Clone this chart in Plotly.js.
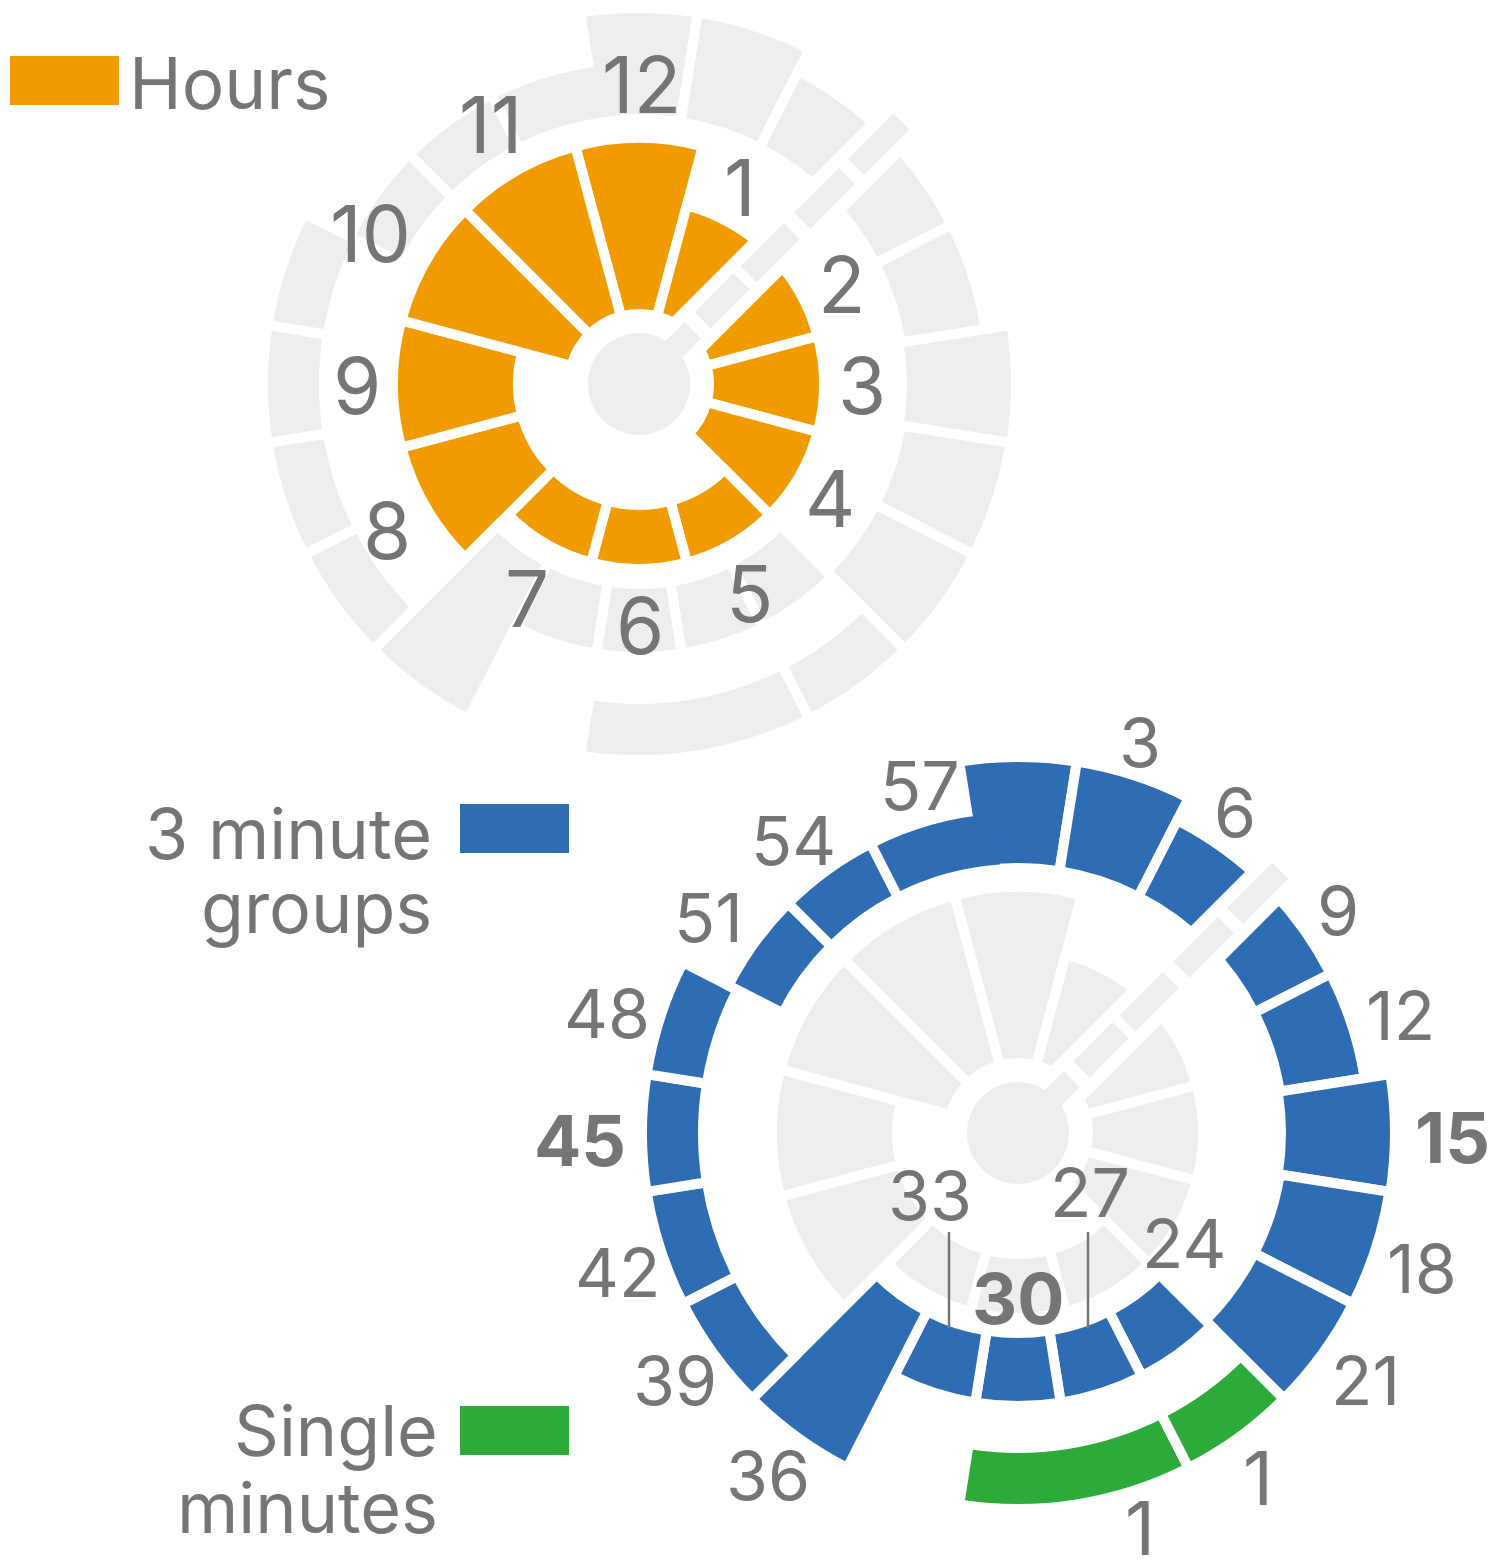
<!DOCTYPE html>
<html><head><meta charset="utf-8">
<script src="https://cdn.plot.ly/plotly-3.0.1.min.js"></script>
<style>html,body{margin:0;padding:0;background:#fff;overflow:hidden}</style>
</head><body><div id="chart" style="width:1508px;height:1561px"></div>
<script>
// ---------------- DATA ----------------
// Hours ring (clock positions) with inner / outer radial extent
const hours      = [12, 1, 2, 3, 4, 5, 6, 7, 8, 9, 10, 11];
const hourInner  = [75, 75, 75, 75, 75, 126, 126, 126, 126, 126, 75, 75];
const hourOuter  = [241, 180, 180, 180, 180, 180, 180, 180, 241, 241, 241, 241];

// 3 minute groups ring
const groupMinutes = [0, 3, 6, 9, 12, 15, 18, 21, 24, 27, 30, 33, 36, 39, 42, 45, 48, 51, 54, 57];
const groupStart   = [-1.5, 1.5, 4.5, 7.5, 10.5, 13.5, 16.5, 19.5, 22.5, 25.5, 28.5, 31.5, 34.5, 37.5, 40.5, 43.5, 46.5, 49.5, 52.5, 55.5];
const groupEnd     = [1.5, 4.5, 7.5, 10.5, 13.5, 16.5, 19.5, 22.5, 25.5, 28.5, 31.5, 34.5, 37.5, 40.5, 43.5, 46.5, 49.5, 52.5, 55.5, 59.35];
const groupInner   = [270, 270, 270, 270, 270, 268, 270, 270, 205, 205, 205, 205, 205, 320, 320, 320, 320, 269, 269, 269];
const groupOuter   = [371, 371, 346, 346, 346, 372, 371, 371, 268, 268, 268, 268, 371, 371, 371, 371, 371, 320, 320, 320];
const groupLabels  = ['', '3', '6', '9', '12', '15', '18', '21', '24', '27', '30', '33', '36', '39', '42', '45', '48', '51', '54', '57'];

// Single minutes ring
const singleStart  = [25.5, 22.5];
const singleEnd    = [31.5, 25.5];
const singleInner  = [320, 320];
const singleOuter  = [371, 371];
const singleLabels = ['1', '1'];

// Clock hand (minute position) and its segments
const handMinute   = 7.5;
const handSegStart = [0, 90, 155, 231, 307];
const handSegEnd   = [76, 145, 216, 294, 371];
const centerRadius = 51;

// ---------------- LAYOUT / STYLE ----------------
const W = 1508, H = 1561, R = 380, GAP = 10;
const TOP = {cx: 639, cy: 384}, BOT = {cx: 1018, cy: 1133};
const GREY = '#eeeeee', ORANGE = '#f29b00', BLUE = '#2e6db4', GREEN = '#2cab3a', TXT = '#757575';
const FONT = 'Inter, Roboto, "DejaVu Sans", sans-serif';

// label positions (px)
const hourLabelPos = [[641,85],[740,187],[842,284],[862,386],[830,498],[749,594],[640,626],[527,598],[387,530],[357,385],[370,234],[490,125]];
const groupLabelPos = [null,[1140,742],[1235,812],[1338,910],[1400,1015],[1452,1137],[1422,1268],[1365,1380],[1184,1243],[1090,1192],[1018,1298],[930,1195],[768,1475],[675,1380],[617,1272],[580,1140],[607,1013],[708,917],[793,840],[920,785]];
const boldGroups = ['15', '30', '45'];
const singleLabelPos = [[1140,1528],[1258,1478]];

function domainFor(c) {
  return {x: [(c.cx - R) / W, (c.cx + R) / W], y: [1 - (c.cy + R) / H, 1 - (c.cy - R) / H]};
}

function barTrace(sub, thetaDeg, widthDeg, inner, outer, color, noStroke) {
  return {
    type: 'barpolar', subplot: sub, hoverinfo: 'skip', showlegend: false,
    theta: thetaDeg, width: widthDeg,
    base: inner.map((v, i) => noStroke[i] ? v : v - GAP / 2),
    r: outer.map((v, i) => noStroke[i] ? v - inner[i] : v - inner[i] + GAP),
    marker: {color: color, line: {color: '#ffffff', width: noStroke.map(n => n ? 0 : GAP)}}
  };
}

function clockTraces(sub, cHours, cGroups, cSingles) {
  const tr = [];
  tr.push(barTrace(sub, hours.map(h => (h % 12) * 30), hours.map(() => 30),
    hourInner, hourOuter, cHours, hours.map(() => false)));
  // draw order: a group overlapping its successor is drawn right after it, without stroke
  const n = groupMinutes.length;
  const overl = groupMinutes.map((m, i) => groupEnd[i] - groupStart[i] > 3.01);
  const order = [];
  groupMinutes.forEach((m, i) => { if (!overl[i]) { order.push(i); const p = (i - 1 + n) % n; if (overl[p] && order.indexOf(p) < 0) order.push(p); } });
  groupMinutes.forEach((m, i) => { if (order.indexOf(i) < 0) order.push(i); });
  tr.push(barTrace(sub,
    order.map(i => (groupStart[i] + groupEnd[i]) / 2 * 6),
    order.map(i => (groupEnd[i] - groupStart[i]) * 6),
    order.map(i => groupInner[i]), order.map(i => groupOuter[i]), cGroups, order.map(i => overl[i])));
  tr.push(barTrace(sub, singleStart.map((s, i) => (s + singleEnd[i]) / 2 * 6),
    singleStart.map((s, i) => (singleEnd[i] - s) * 6), singleInner, singleOuter, cSingles, singleStart.map(() => false)));
  // center disk
  tr.push({type: 'barpolar', subplot: sub, hoverinfo: 'skip', showlegend: false,
    theta: [0], width: [360], base: [0], r: [centerRadius], marker: {color: GREY, line: {width: 0}}});
  // white clearance around the hand
  tr.push({type: 'scatterpolar', subplot: sub, mode: 'lines', hoverinfo: 'skip', showlegend: false,
    r: [centerRadius, R], theta: [handMinute * 6, handMinute * 6], line: {color: '#ffffff', width: 48}});
  // hand segments
  const hr = [], ht = [];
  handSegStart.forEach((s, i) => { hr.push(s, handSegEnd[i], null); ht.push(handMinute * 6, handMinute * 6, null); });
  tr.push({type: 'scatterpolar', subplot: sub, mode: 'lines', hoverinfo: 'skip', showlegend: false,
    r: hr, theta: ht, connectgaps: false, line: {color: GREY, width: 23}});
  return tr;
}

const data = [].concat(
  clockTraces('polar', ORANGE, GREY, GREY),
  clockTraces('polar2', GREY, BLUE, GREEN)
);

function polarLayout(c) {
  return {
    domain: domainFor(c), bgcolor: 'rgba(0,0,0,0)', barmode: 'overlay', hole: 0,
    radialaxis: {visible: false, range: [0, R], autorange: false, showgrid: false, showline: false, showticklabels: false, ticks: ''},
    angularaxis: {visible: false, rotation: 90, direction: 'clockwise', showgrid: false, showline: false, showticklabels: false, ticks: ''}
  };
}

function ann(x, y, text, size, opts) {
  return Object.assign({xref: 'paper', yref: 'paper', x: x / W, y: 1 - y / H, text: text, showarrow: false,
    xanchor: 'center', yanchor: 'middle', font: {family: FONT, size: size, color: TXT}}, opts || {});
}

const annotations = [];
hours.forEach((h, i) => annotations.push(ann(hourLabelPos[i][0], hourLabelPos[i][1], String(h), 78)));
groupLabels.forEach((t, i) => {
  if (!t) return;
  const b = boldGroups.indexOf(t) >= 0;
  annotations.push(ann(groupLabelPos[i][0], groupLabelPos[i][1], b ? '<b>' + t + '</b>' : t, b ? 70 : 68));
});
singleLabels.forEach((t, i) => annotations.push(ann(singleLabelPos[i][0], singleLabelPos[i][1], t, 74)));

// legend texts
annotations.push(ann(127, 83, 'Hours', 71, {xanchor: 'left'}));
annotations.push(ann(434, 833, '3 minute', 70, {xanchor: 'right'}));
annotations.push(ann(434, 907, 'groups', 70, {xanchor: 'right'}));
annotations.push(ann(440, 1430, 'Single', 70, {xanchor: 'right'}));
annotations.push(ann(440, 1507, 'minutes', 70, {xanchor: 'right'}));

function rect(x0, y0, x1, y1, color) {
  return {type: 'rect', xref: 'paper', yref: 'paper', x0: x0 / W, x1: x1 / W, y0: 1 - y1 / H, y1: 1 - y0 / H,
    fillcolor: color, line: {width: 0}};
}
function vline(x, y0, y1) {
  return {type: 'line', xref: 'paper', yref: 'paper', x0: x / W, x1: x / W, y0: 1 - y1 / H, y1: 1 - y0 / H,
    line: {color: TXT, width: 2.5}};
}
const shapes = [
  rect(10, 56, 119, 105, ORANGE),
  rect(460, 804, 569, 853, BLUE),
  rect(460, 1406, 569, 1455, GREEN),
  vline(949, 1232, 1328),
  vline(1088, 1232, 1328)
];

const layout = {
  width: W, height: H, margin: {l: 0, r: 0, t: 0, b: 0, pad: 0},
  paper_bgcolor: '#ffffff', plot_bgcolor: '#ffffff', showlegend: false,
  polar: polarLayout(TOP), polar2: polarLayout(BOT),
  annotations: annotations, shapes: shapes
};

Plotly.newPlot('chart', data, layout, {staticPlot: true, displayModeBar: false});
</script>
</body></html>
